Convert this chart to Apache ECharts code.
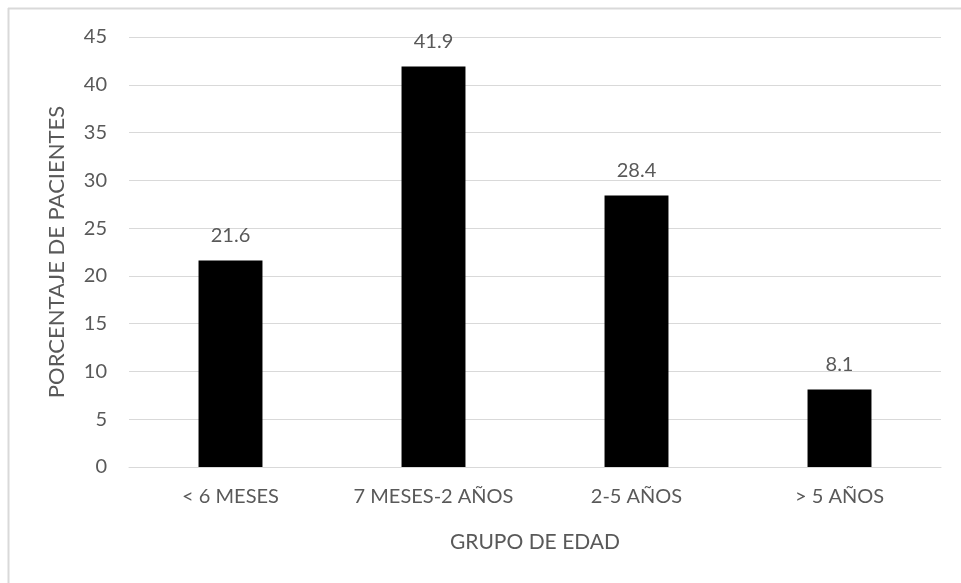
<!DOCTYPE html>
<html>
<head>
<meta charset="utf-8">
<style>
  html, body { margin: 0; padding: 0; background: #ffffff; }
  #chart { width: 961px; height: 583px; }
</style>
<script src="https://cdn.jsdelivr.net/npm/echarts@6/dist/echarts.min.js"></script>
</head>
<body>
<div id="chart"></div>
<script>
// Age groups and share of patients (%)
const categories = ['< 6 MESES', '7 MESES-2 AÑOS', '2-5 AÑOS', '> 5 AÑOS'];
const percentages = [21.6, 41.9, 28.4, 8.1];
const yTicks = { min: 0, max: 45, interval: 5 };

const textColor = '#595959';
const fontFamily = 'Lato, "Open Sans", sans-serif';

const chart = echarts.init(document.getElementById('chart'), null, { renderer: 'canvas' });

chart.setOption({
  animation: false,
  backgroundColor: '#ffffff',
  textStyle: { fontFamily: fontFamily },
  graphic: [
    // chart frame: top and left edges
    { type: 'line', shape: { x1: 8, y1: 8.5, x2: 961, y2: 8.5 }, style: { stroke: '#d9d9d9', lineWidth: 2 } },
    { type: 'line', shape: { x1: 8.5, y1: 8, x2: 8.5, y2: 583 }, style: { stroke: '#d9d9d9', lineWidth: 2 } }
  ],
  grid: { left: 129, right: 20, top: 37, bottom: 116, containLabel: false },
  xAxis: {
    type: 'category',
    data: categories,
    name: 'GRUPO DE EDAD',
    nameLocation: 'middle',
    nameGap: 65,
    nameTextStyle: { color: textColor, fontSize: 21, fontFamily: fontFamily },
    axisLine: { show: true, lineStyle: { color: '#d9d9d9', width: 1 } },
    axisTick: { show: false },
    axisLabel: { color: textColor, fontSize: 20, margin: 20, interval: 0, hideOverlap: false, fontFamily: fontFamily },
    z: 1
  },
  yAxis: {
    type: 'value',
    min: yTicks.min,
    max: yTicks.max,
    interval: yTicks.interval,
    name: 'PORCENTAJE DE PACIENTES',
    nameLocation: 'middle',
    nameGap: 61,
    nameTextStyle: { color: textColor, fontSize: 22, fontFamily: fontFamily },
    axisLine: { show: false },
    axisTick: { show: false },
    axisLabel: { color: textColor, fontSize: 20, margin: 22, fontFamily: fontFamily },
    splitLine: { lineStyle: { color: '#d9d9d9', width: 1 } }
  },
  series: [{
    type: 'bar',
    data: percentages,
    barWidth: '31.5%',
    itemStyle: { color: '#000000' },
    label: {
      show: true,
      position: 'top',
      distance: 15,
      color: textColor,
      fontSize: 20,
      fontFamily: fontFamily,
      formatter: p => p.value.toFixed(1)
    }
  }]
});
</script>
</body>
</html>
